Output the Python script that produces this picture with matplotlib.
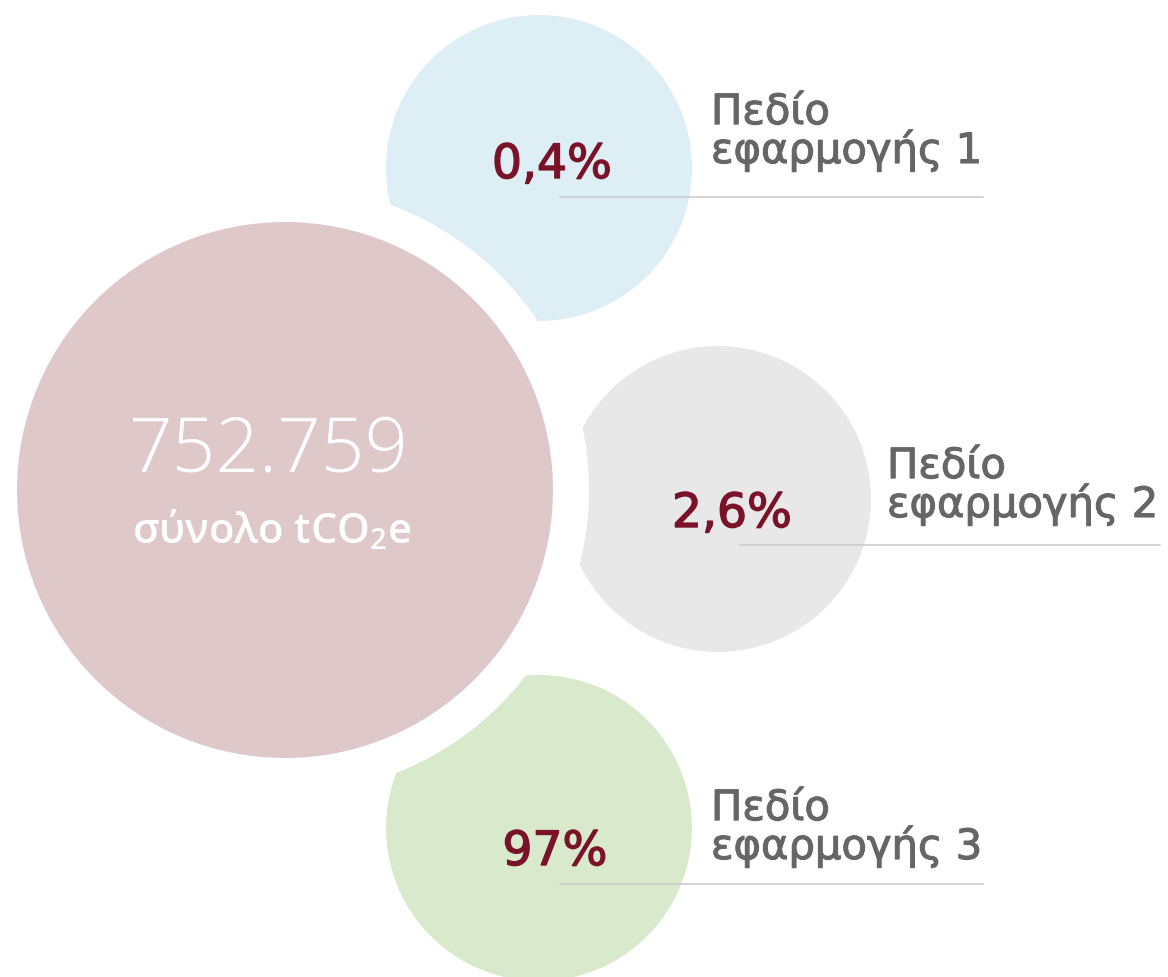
import matplotlib
matplotlib.use("Agg")
import matplotlib.pyplot as plt
import matplotlib.patheffects as pe
from matplotlib.patches import Circle

plt.rcParams['font.family'] = ['Open Sans', 'DejaVu Sans']

# --- data ---
total_value = "752.759"
total_label = r"σύνολο tCO$_{\mathregular{2}}$e"
scope_labels = ["Πεδίο\nεφαρμογής 1", "Πεδίο\nεφαρμογής 2", "Πεδίο\nεφαρμογής 3"]
scope_shares = ["0,4%", "2,6%", "97%"]
scope_colors = ["#ddeef5", "#e8e8e8", "#d8eacb"]

# --- layout (pixels, y downward) ---
W, H = 1168, 977
big_center = (285, 490)
big_r = 268
gap_r = 304
small_r = 153
small_centers = [(539, 168), (718, 499), (539, 828)]
share_pos = [(552, 178), (732, 527), (555, 865)]
line_y = [197, 545, 884]
line_x = [(560, 983), (740, 1160), (560, 983)]
# baseline of the second label line
label_pos = [(711, 163), (887, 517), (711, 859)]

fig = plt.figure(figsize=(W / 100, H / 100), dpi=100)
ax = fig.add_axes([0, 0, 1, 1])
ax.set_xlim(0, W)
ax.set_ylim(H, 0)
ax.set_aspect('equal')
ax.axis('off')

# small circles first, then a white disc to carve the gap, then the big one
for (cx, cy), col in zip(small_centers, scope_colors):
    ax.add_patch(Circle((cx, cy), small_r, facecolor=col, edgecolor='none', zorder=1))
ax.add_patch(Circle(big_center, gap_r, facecolor='white', edgecolor='none', zorder=2))
ax.add_patch(Circle(big_center, big_r, facecolor='#dfc8c9', edgecolor='none', zorder=3))

for i in range(len(scope_labels)):
    x0, x1 = line_x[i]
    ax.plot([x0, x1], [line_y[i], line_y[i]], color='#c9c9c9', lw=1.1, zorder=4)
    sx, sy = share_pos[i]
    ax.text(sx, sy, scope_shares[i], color='#7a1329', fontsize=34,
            family='DejaVu Sans', ha='center', va='baseline', zorder=5,
            path_effects=[pe.withStroke(linewidth=1.0, foreground='#7a1329')])
    lx, ly = label_pos[i]
    ax.text(lx, ly, scope_labels[i], color='#666666', fontsize=30,
            family='DejaVu Sans', linespacing=0.88,
            ha='left', va='baseline', zorder=5,
            path_effects=[pe.withStroke(linewidth=0.8, foreground='#666666')])

ax.text(269, 472, total_value, color='white', fontsize=55, fontweight='light',
        ha='center', va='baseline', zorder=5)
ax.text(272, 543, total_label, color='white', fontsize=30, fontweight='semibold',
        ha='center', va='baseline', zorder=5)

fig.savefig("out.png", dpi=100, facecolor='white')
